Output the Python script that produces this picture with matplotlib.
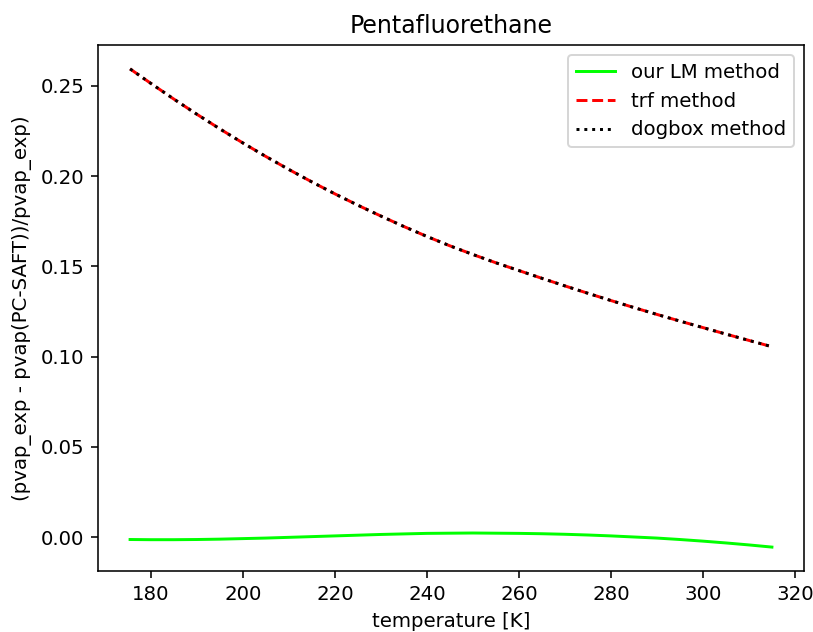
import matplotlib
matplotlib.use("Agg")
import matplotlib.pyplot as plt

# Temperatures [K] and relative vapour-pressure deviations for each fitting method
temperature = [175.5, 180, 185, 190, 195, 200, 205, 210, 215, 220, 225, 230, 235,
               240, 245, 250, 255, 260, 265, 270, 275, 280, 285, 290, 295, 300,
               305, 310, 315]

lm_dev = [-0.0013, -0.0014, -0.0014, -0.0013, -0.0011, -0.0008, -0.0005, -0.0001,
          0.0003, 0.0007, 0.0011, 0.0015, 0.0018, 0.0021, 0.0022, 0.0023, 0.0022,
          0.0021, 0.0019, 0.0016, 0.0012, 0.0007, 0.0001, -0.0005, -0.0013,
          -0.0022, -0.0032, -0.0043, -0.0055]

trf_dev = [0.2594, 0.2514, 0.2427, 0.2343, 0.2262, 0.2184, 0.2109, 0.2037, 0.1968,
           0.1902, 0.1839, 0.1779, 0.1721, 0.1666, 0.1614, 0.1566, 0.1520, 0.1477,
           0.1434, 0.1392, 0.1351, 0.1311, 0.1272, 0.1234, 0.1197, 0.1161, 0.1125,
           0.1090, 0.1055]

dogbox_dev = list(trf_dev)

dpi = 142
fig = plt.figure(figsize=(813 / dpi, 632 / dpi), dpi=dpi)
ax = fig.add_axes([98 / 813, 1 - 571 / 632, (804 - 98) / 813, (571 - 45) / 632])

ax.plot(temperature, lm_dev, color="lime", linestyle="-", label="our LM method")
ax.plot(temperature, trf_dev, color="red", linestyle="--", label="trf method")
ax.plot(temperature, dogbox_dev, color="black", linestyle=":", label="dogbox method")

ax.set_title("Pentafluorethane")
ax.set_xlabel("temperature [K]")
ax.set_ylabel("(pvap_exp - pvap(PC-SAFT))/pvap_exp)")
ax.legend(loc="upper right")

fig.savefig("out.png", dpi=dpi)
